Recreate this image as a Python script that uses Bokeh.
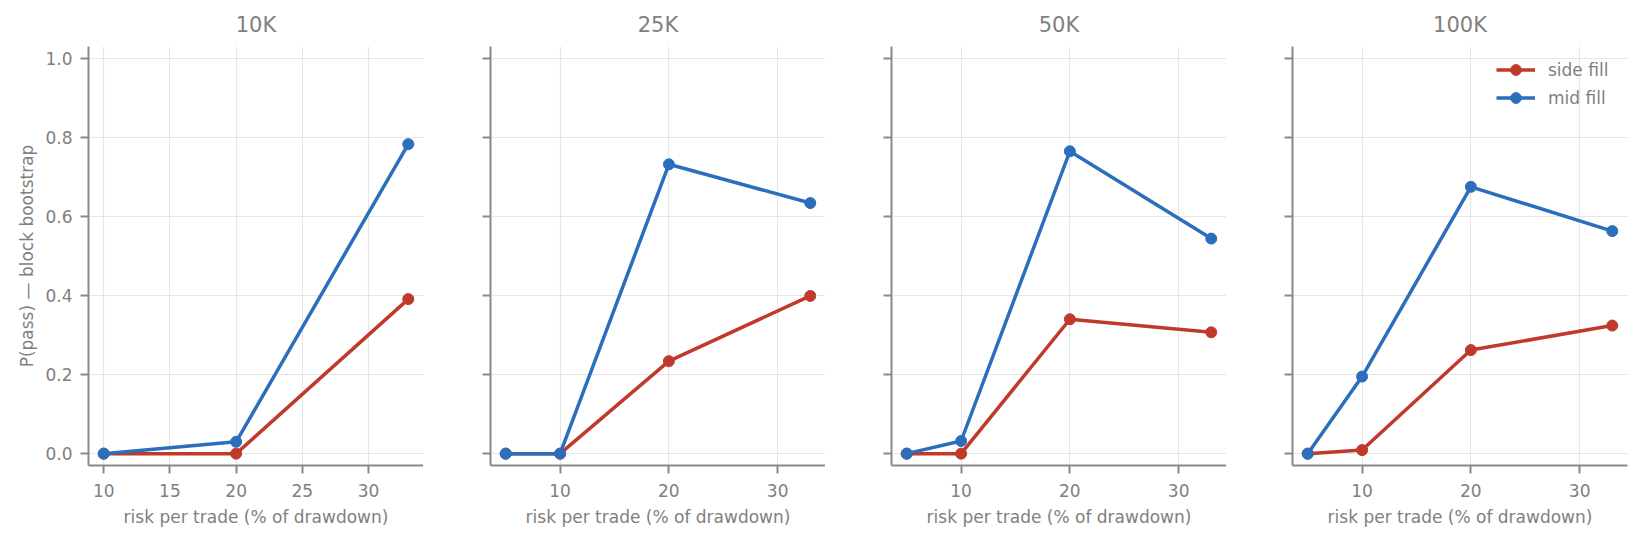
from bokeh.plotting import figure
from bokeh.layouts import row
from bokeh.models import Range1d, FixedTicker, NumeralTickFormatter
from bokeh.embed import file_html
from bokeh.resources import INLINE

# ---- data ----
panels = ["10K", "25K", "50K", "100K"]
risk_10k = [10, 20, 33]
risk_other = [5, 10, 20, 33]
side_10k = [0.0, 0.0, 0.391]
mid_10k = [0.0, 0.030, 0.783]
side_25k = [0.0, 0.0, 0.234, 0.399]
mid_25k = [0.0, 0.0, 0.732, 0.634]
side_50k = [0.0, 0.0, 0.340, 0.307]
mid_50k = [0.0, 0.032, 0.765, 0.544]
side_100k = [0.0, 0.009, 0.262, 0.324]
mid_100k = [0.0, 0.195, 0.675, 0.563]
y_ticks = [0.0, 0.2, 0.4, 0.6, 0.8, 1.0]
x_ticks_10k = [10, 15, 20, 25, 30]
x_ticks_other = [10, 20, 30]

series = [
    (risk_10k, side_10k, mid_10k, x_ticks_10k),
    (risk_other, side_25k, mid_25k, x_ticks_other),
    (risk_other, side_50k, mid_50k, x_ticks_other),
    (risk_other, side_100k, mid_100k, x_ticks_other),
]

RED = "#c0392b"
BLUE = "#2b6fbc"
TXT = "#808080"
SPINE = "#8a8a8a"
GRID = "#e6e6e6"
FONT = "DejaVu Sans"

FRAME_W = 335
lefts = [88, 67, 66, 66]
rights = [0, 0, 0, 15]
H = 541

figs = []
for i, (title, (xs, side, mid, xt)) in enumerate(zip(panels, series)):
    span = max(xs) - min(xs)
    xr = Range1d(min(xs) - 0.05 * span, max(xs) + 0.05 * span)
    p = figure(width=lefts[i] + FRAME_W + rights[i], height=H,
               x_range=xr, y_range=Range1d(-0.03, 1.03),
               output_backend="svg", toolbar_location=None,
               min_border_left=lefts[i], min_border_right=rights[i],
               min_border_top=46, min_border_bottom=76)
    p.title.text = title
    p.title.align = "center"
    p.title.text_font = FONT
    p.title.text_font_size = "21px"
    p.title.text_font_style = "normal"
    p.title.text_color = TXT
    p.title.standoff = 19
    p.outline_line_color = None
    p.background_fill_color = "white"
    p.border_fill_color = "white"

    p.xaxis.ticker = FixedTicker(ticks=xt)
    p.yaxis.ticker = FixedTicker(ticks=y_ticks)
    p.yaxis.formatter = NumeralTickFormatter(format="0.0")
    for ax in (p.xaxis, p.yaxis):
        ax.axis_line_color = SPINE
        ax.axis_line_width = 2
        ax.major_tick_line_color = SPINE
        ax.major_tick_line_width = 2
        ax.major_tick_out = 8
        ax.major_tick_in = 0
        ax.minor_tick_line_color = None
        ax.major_label_text_font = FONT
        ax.major_label_text_font_size = "17px"
        ax.major_label_text_color = TXT
        ax.axis_label_text_font = FONT
        ax.axis_label_text_font_size = "17px"
        ax.axis_label_text_font_style = "normal"
        ax.axis_label_text_color = TXT
    p.xaxis.major_label_standoff = 10
    p.xaxis.axis_label_standoff = 7
    p.yaxis.major_label_standoff = 8
    p.yaxis.axis_label_standoff = 5
    p.xaxis.axis_label = "risk per trade (% of drawdown)"
    if i == 0:
        p.yaxis.axis_label = "P(pass) \u2014 block bootstrap"
    else:
        p.yaxis.major_label_text_font_size = "0px"
    p.xgrid.grid_line_color = GRID
    p.ygrid.grid_line_color = GRID
    p.xgrid.grid_line_width = 1.2
    p.ygrid.grid_line_width = 1.2

    p.line(xs, side, color=RED, line_width=3.5, legend_label="side fill")
    p.scatter(xs, side, color=RED, size=11, legend_label="side fill")
    p.line(xs, mid, color=BLUE, line_width=3.5, legend_label="mid fill")
    p.scatter(xs, mid, color=BLUE, size=11, legend_label="mid fill")

    lg = p.legend[0]
    if i == 3:
        lg.location = "top_right"
        lg.background_fill_alpha = 0
        lg.border_line_alpha = 0
        lg.label_text_font = FONT
        lg.label_text_font_size = "17px"
        lg.label_text_color = TXT
        lg.glyph_width = 39
        lg.glyph_height = 27
        lg.label_height = 27
        lg.label_width = 69
        lg.label_standoff = 13
        lg.spacing = 1
        lg.padding = 8
        lg.margin = 2
    else:
        lg.visible = False
    figs.append(p)

layout = row(figs)
open("out.html", "w").write(file_html(layout, INLINE))
